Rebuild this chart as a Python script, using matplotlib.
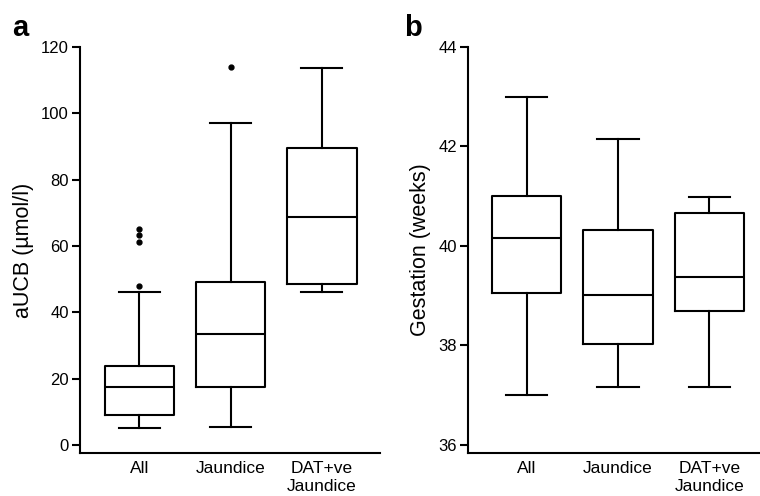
import matplotlib
matplotlib.use("Agg")
import matplotlib.pyplot as plt

plt.rcParams["font.family"] = ["Liberation Sans", "DejaVu Sans"]

groups = ["All", "Jaundice", "DAT+ve\nJaundice"]

# panel a: aUCB (umol/l)
a_whislo = [5.2, 5.5, 46.2]
a_q1     = [9.2, 17.4, 48.7]
a_med    = [17.6, 33.4, 68.8]
a_q3     = [23.8, 49.2, 89.5]
a_whishi = [46.2, 97.2, 113.6]
a_fliers = [[48.0, 61.2, 63.2, 65.0], [113.9], []]

# panel b: gestation (weeks)
b_whislo = [37.0, 37.15, 37.15]
b_q1     = [39.05, 38.02, 38.69]
b_med    = [40.15, 39.01, 39.38]
b_q3     = [41.0, 40.32, 40.66]
b_whishi = [43.0, 42.14, 40.99]
b_fliers = [[], [], []]


def make_stats(lo, q1, med, q3, hi, fl):
    return [dict(whislo=lo[i], q1=q1[i], med=med[i], q3=q3[i], whishi=hi[i],
                 fliers=fl[i], label=groups[i]) for i in range(len(groups))]


def draw(ax, stats, ylim, yticks, ylabel):
    lw = 1.5
    ax.bxp(stats, positions=[1, 2, 3], widths=0.76, showfliers=True,
           boxprops=dict(color="black", linewidth=lw),
           medianprops=dict(color="black", linewidth=lw),
           whiskerprops=dict(color="black", linewidth=lw),
           capprops=dict(color="black", linewidth=lw),
           capwidths=0.45,
           flierprops=dict(marker="o", markerfacecolor="black",
                           markeredgecolor="black", markersize=3.5))
    ax.set_ylim(*ylim)
    ax.set_yticks(yticks)
    ax.spines["top"].set_visible(False)
    ax.spines["right"].set_visible(False)
    ax.spines["left"].set_bounds(ylim[0], yticks[-1])
    ax.spines["left"].set_linewidth(1.5)
    ax.spines["bottom"].set_linewidth(1.5)
    ax.tick_params(axis="y", length=6, width=1.5, labelsize=12, pad=2)
    ax.tick_params(axis="x", length=0, labelsize=12.5, pad=6)
    ax.set_ylabel(ylabel, fontsize=15.5, labelpad=5)


fig = plt.figure(figsize=(7.6, 4.96), dpi=100)
ax_a = fig.add_axes([80 / 760, 43 / 496, 300 / 760, 406 / 496])
ax_b = fig.add_axes([468 / 760, 43 / 496, 292 / 760, 406 / 496])

draw(ax_a, make_stats(a_whislo, a_q1, a_med, a_q3, a_whishi, a_fliers),
     (-2.4, 120), [0, 20, 40, 60, 80, 100, 120], "aUCB (µmol/l)")
ax_a.set_xlim(1 - 59 / 91, 3 + 58 / 91)

draw(ax_b, make_stats(b_whislo, b_q1, b_med, b_q3, b_whishi, b_fliers),
     (35.83, 44), [36, 38, 40, 42, 44], "Gestation (weeks)")
ax_b.set_xlim(1 - 58.7 / 91, 3 + 50.7 / 91)

fig.text(12 / 760, 1 - 36 / 496, "a", fontsize=21, fontweight="bold")
fig.text(404 / 760, 1 - 36 / 496, "b", fontsize=21, fontweight="bold")

fig.savefig("out.png", dpi=100)
